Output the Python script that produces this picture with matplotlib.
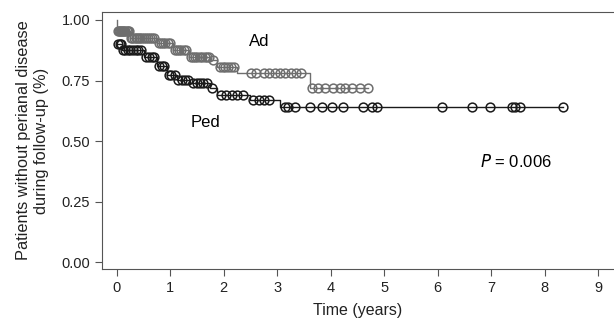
import numpy as np
import matplotlib.pyplot as plt

plt.rcParams['font.family'] = ['Liberation Sans', 'DejaVu Sans']

# Kaplan-Meier steps (time in years, survival after the step)
ad_t = [0.0, 0.01, 0.24, 0.75, 1.05, 1.35, 1.74, 1.87, 2.24, 3.61]
ad_s = [1.00, 0.955, 0.925, 0.905, 0.876, 0.848, 0.835, 0.806, 0.782, 0.719]
ad_end = 4.70
ad_cens = [0.02, 0.04, 0.06, 0.08, 0.1, 0.12, 0.14, 0.16, 0.18, 0.2, 0.22, 0.26,
           0.29, 0.32, 0.35, 0.38, 0.41, 0.44, 0.47, 0.5, 0.54, 0.58, 0.62,
           0.66, 0.7, 0.78, 0.82, 0.86, 0.9, 0.95, 1.0, 1.08, 1.12, 1.16, 1.2,
           1.25, 1.3, 1.38, 1.42, 1.46, 1.5, 1.55, 1.6, 1.64, 1.68, 1.72, 1.8,
           1.92, 1.98, 2.03, 2.08, 2.14, 2.2, 2.5, 2.6, 2.75, 2.85, 2.95, 3.05,
           3.15, 3.25, 3.35, 3.45, 3.65, 3.76, 3.89, 4.04, 4.17, 4.27, 4.4,
           4.55, 4.7]

ped_t = [0.0, 0.1, 0.5, 0.75, 0.93, 1.12, 1.37, 1.74, 1.87, 2.49, 3.05]
ped_s = [0.90, 0.876, 0.847, 0.81, 0.773, 0.752, 0.74, 0.719, 0.69, 0.67, 0.64]
ped_end = 8.35
ped_cens = [0.02, 0.05, 0.08, 0.12, 0.16, 0.2, 0.25, 0.3, 0.35, 0.4, 0.45, 0.55,
            0.6, 0.66, 0.7, 0.78, 0.84, 0.88, 0.97, 1.02, 1.08, 1.15, 1.22,
            1.28, 1.33, 1.42, 1.5, 1.56, 1.62, 1.68, 1.78, 1.95, 2.05, 2.15,
            2.25, 2.35, 2.55, 2.65, 2.75, 2.85, 3.14, 3.2, 3.33, 3.61, 3.83,
            4.02, 4.23, 4.6, 4.77, 4.86, 6.08, 6.64, 6.98, 7.39, 7.45, 7.54, 8.35]

groups = [
    ('Ad', ad_t, ad_s, ad_end, ad_cens, '#6e6e6e'),
    ('Ped', ped_t, ped_s, ped_end, ped_cens, '#1a1a1a'),
]

fig = plt.figure(figsize=(6.14, 3.2), dpi=100)
ax = fig.add_axes([0.166, 0.159, 0.834, 0.8035])

for name, t, s, end, cens, col in groups:
    tt = np.append(t, end)
    ss = np.append(s, s[-1])
    ax.step(tt, ss, where='post', color=col, lw=1.0)
    idx = np.searchsorted(t, cens, side='right') - 1
    cy = np.array(s)[idx]
    ax.plot(cens, cy, 'o', mfc='none', mec=col, mew=1.1, ms=6.3, ls='none')

ax.text(2.67, 0.91, 'Ad', fontsize=12, ha='center', va='center')
ax.text(1.65, 0.575, 'Ped', fontsize=12, ha='center', va='center')
ax.text(6.8, 0.415, '$\\it{P}$ = 0.006', fontsize=12, ha='left', va='center')

ax.set_xlim(-0.28, 9.30)
ax.set_ylim(-0.029, 1.033)
ax.set_xticks(range(10))
ax.set_yticks([0, 0.25, 0.5, 0.75, 1.0])
ax.set_yticklabels(['0.00', '0.25', '0.50', '0.75', '1.00'])
ax.tick_params(labelsize=10.5, length=5, color='#555555', labelcolor='#222222')
ax.spines['right'].set_visible(False)
for sp in ['left', 'top', 'bottom']:
    ax.spines[sp].set_color('#555555')

ax.set_xlabel('Time (years)', fontsize=11.5, color='#222222', labelpad=6)
ax.set_ylabel('Patients without perianal disease\nduring follow-up (%)',
              fontsize=11.8, color='#222222', labelpad=9)

fig.savefig('out.png', dpi=100)
